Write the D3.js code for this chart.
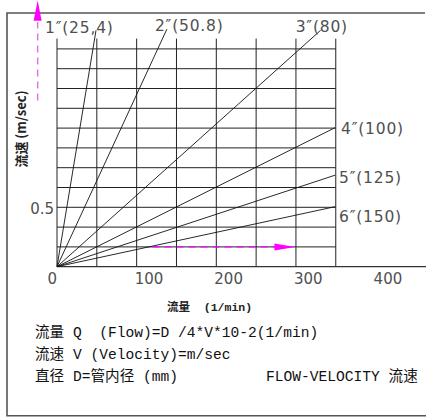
<!DOCTYPE html>
<html>
<head>
<meta charset="utf-8">
<script src="https://cdn.jsdelivr.net/npm/d3@7"></script>
<style>
  html, body { margin: 0; padding: 0; background: #fff; }
  .cad { font-family: "DejaVu Sans", sans-serif; font-size: 15px; fill: #505050; }
  .note { font-family: "Liberation Mono", "Noto Sans CJK SC", monospace; font-size: 14.6px; fill: #111; }
</style>
</head>
<body>
<div id="chart"></div>
<script>
// pipe sizes (inch / mm) and where each line ends (flow l/min, velocity m/sec)
const pipeLabels = ['1″(25,4)', '2″(50.8)', '3″(80)', '4″(100)', '5″(125)', '6″(150)'];
const endFlow = [49, 138, 331, 349, 349, 349];
const endVelocity = [1.99, 2.0, 1.99, 1.17, 0.77, 0.505];

const flowTicks = [0, 100, 200, 300, 400];
const velocityTicks = [0.5];
const flowGrid = [0, 50, 100, 150, 200, 250, 300, 350];
const velocityGrid = [1, 2, 3, 4, 5, 6, 7, 8, 9, 10, 11].map(function(k) { return k / 6; });

const noteLines = [
  '流量 Q  (Flow)=D /4*V*10-2(1/min)',
  '流速 V (Velocity)=m/sec',
  '直径 D=管内径 (mm)'
];

const width = 426;
const height = 418;

const x = d3.scaleLinear().domain([0, 400]).range([57, 375.6]);
const y = d3.scaleLinear().domain([0, 0.5]).range([266.7, 207.3]);

const svg = d3
  .select('#chart')
  .append('svg')
  .attr('width', width)
  .attr('height', height);

// outer frame (open on the right)
svg.append('path')
  .attr('d', 'M425,13H7V415.7H426')
  .attr('fill', 'none')
  .attr('stroke', '#555')
  .attr('stroke-width', 1.6);

const grid = svg.append('g').attr('stroke', '#222').attr('stroke-width', 1);

grid.selectAll('line.v')
  .data(flowGrid)
  .enter()
  .append('line')
  .attr('class', 'v')
  .attr('x1', function(d) { return x(d); })
  .attr('x2', function(d) { return x(d); })
  .attr('y1', y(0))
  .attr('y2', y(1.92));

grid.selectAll('line.h')
  .data(velocityGrid)
  .enter()
  .append('line')
  .attr('class', 'h')
  .attr('x1', x(0))
  .attr('x2', x(350))
  .attr('y1', function(d) { return y(d); })
  .attr('y2', function(d) { return y(d); });

// flow axis line runs out to the page edge
svg.append('line')
  .attr('x1', x(0)).attr('x2', width)
  .attr('y1', y(0)).attr('y2', y(0))
  .attr('stroke', '#333')
  .attr('stroke-width', 1.3);

// flow-velocity lines
svg.append('g')
  .selectAll('line')
  .data(pipeLabels)
  .enter()
  .append('line')
  .attr('x1', x(0))
  .attr('y1', y(0))
  .attr('x2', function(d, i) { return x(endFlow[i]); })
  .attr('y2', function(d, i) { return y(endVelocity[i]); })
  .attr('stroke', '#111')
  .attr('stroke-width', 0.9);

// label nudges from the line ends
const labelNudge = [[-51, 3], [-12, 2], [-25, 2], [6, 6], [4, 8], [4, 15]];

svg.append('g')
  .selectAll('text')
  .data(pipeLabels)
  .enter()
  .append('text')
  .attr('class', 'cad')
  .attr('x', function(d, i) { return x(endFlow[i]) + labelNudge[i][0]; })
  .attr('y', function(d, i) { return y(endVelocity[i]) + labelNudge[i][1]; })
  .style('font-size', '15.5px')
  .style('letter-spacing', '0.8px')
  .text(function(d) { return d; });

// tick labels
svg.append('g')
  .selectAll('text')
  .data(flowTicks)
  .enter()
  .append('text')
  .attr('class', 'cad')
  .attr('x', function(d) { return d === 0 ? x(d) : x(d) - 2; })
  .attr('y', y(0) + 17)
  .attr('text-anchor', function(d) { return d === 0 ? 'end' : 'start'; })
  .text(function(d) { return d; });

svg.append('g')
  .selectAll('text')
  .data(velocityTicks)
  .enter()
  .append('text')
  .attr('class', 'cad')
  .attr('x', x(0) - 3)
  .attr('y', function(d) { return y(d) + 6.5; })
  .attr('text-anchor', 'end')
  .text(function(d) { return d; });

// axis titles
svg.append('text')
  .attr('transform', 'translate(26,129) rotate(-90)')
  .attr('text-anchor', 'middle')
  .style('font-family', '"Noto Sans CJK SC", sans-serif')
  .style('font-size', '13px')
  .style('font-weight', 'bold')
  .attr('fill', '#222')
  .text('流速 (m/sec)');

svg.append('text')
  .attr('x', 167)
  .attr('y', 311)
  .style('font-family', '"Liberation Mono", "Noto Sans CJK SC", monospace')
  .style('font-size', '11.5px')
  .style('font-weight', 'bold')
  .attr('fill', '#222')
  .attr('xml:space', 'preserve')
  .text('流量  (1/min)');

// magenta guide arrows
const arrows = svg.append('g');

arrows.append('line')
  .attr('x1', x(120)).attr('x2', x(274))
  .attr('y1', y(1 / 6)).attr('y2', y(1 / 6))
  .attr('stroke', '#f0f')
  .attr('stroke-width', 1.4)
  .attr('stroke-dasharray', '7,5');

arrows.append('path')
  .attr('d', 'M' + x(273) + ',' + (y(1 / 6) - 3.5) + 'L' + x(299) + ',' + y(1 / 6) + 'L' + x(273) + ',' + (y(1 / 6) + 3.5) + 'Z')
  .attr('fill', '#f0f');

const ax = x(-24.3);
arrows.append('line')
  .attr('x1', ax).attr('x2', ax)
  .attr('y1', y(1.4)).attr('y2', y(2.06))
  .attr('stroke', '#e070e0')
  .attr('stroke-width', 1.4)
  .attr('stroke-dasharray', '7,5');

arrows.append('path')
  .attr('d', 'M' + (ax - 4) + ',' + y(2.07) + 'L' + ax + ',' + y(2.24) + 'L' + (ax + 4) + ',' + y(2.07) + 'Z')
  .attr('fill', '#f0f');

// formula notes
svg.append('g')
  .selectAll('text')
  .data(noteLines)
  .enter()
  .append('text')
  .attr('class', 'note')
  .attr('x', 35)
  .attr('y', function(d, i) { return 337 + i * 22; })
  .attr('xml:space', 'preserve')
  .text(function(d) { return d; });

svg.append('text')
  .attr('class', 'note')
  .attr('x', 266)
  .attr('y', 381)
  .text('FLOW-VELOCITY 流速');
</script>
</body>
</html>
